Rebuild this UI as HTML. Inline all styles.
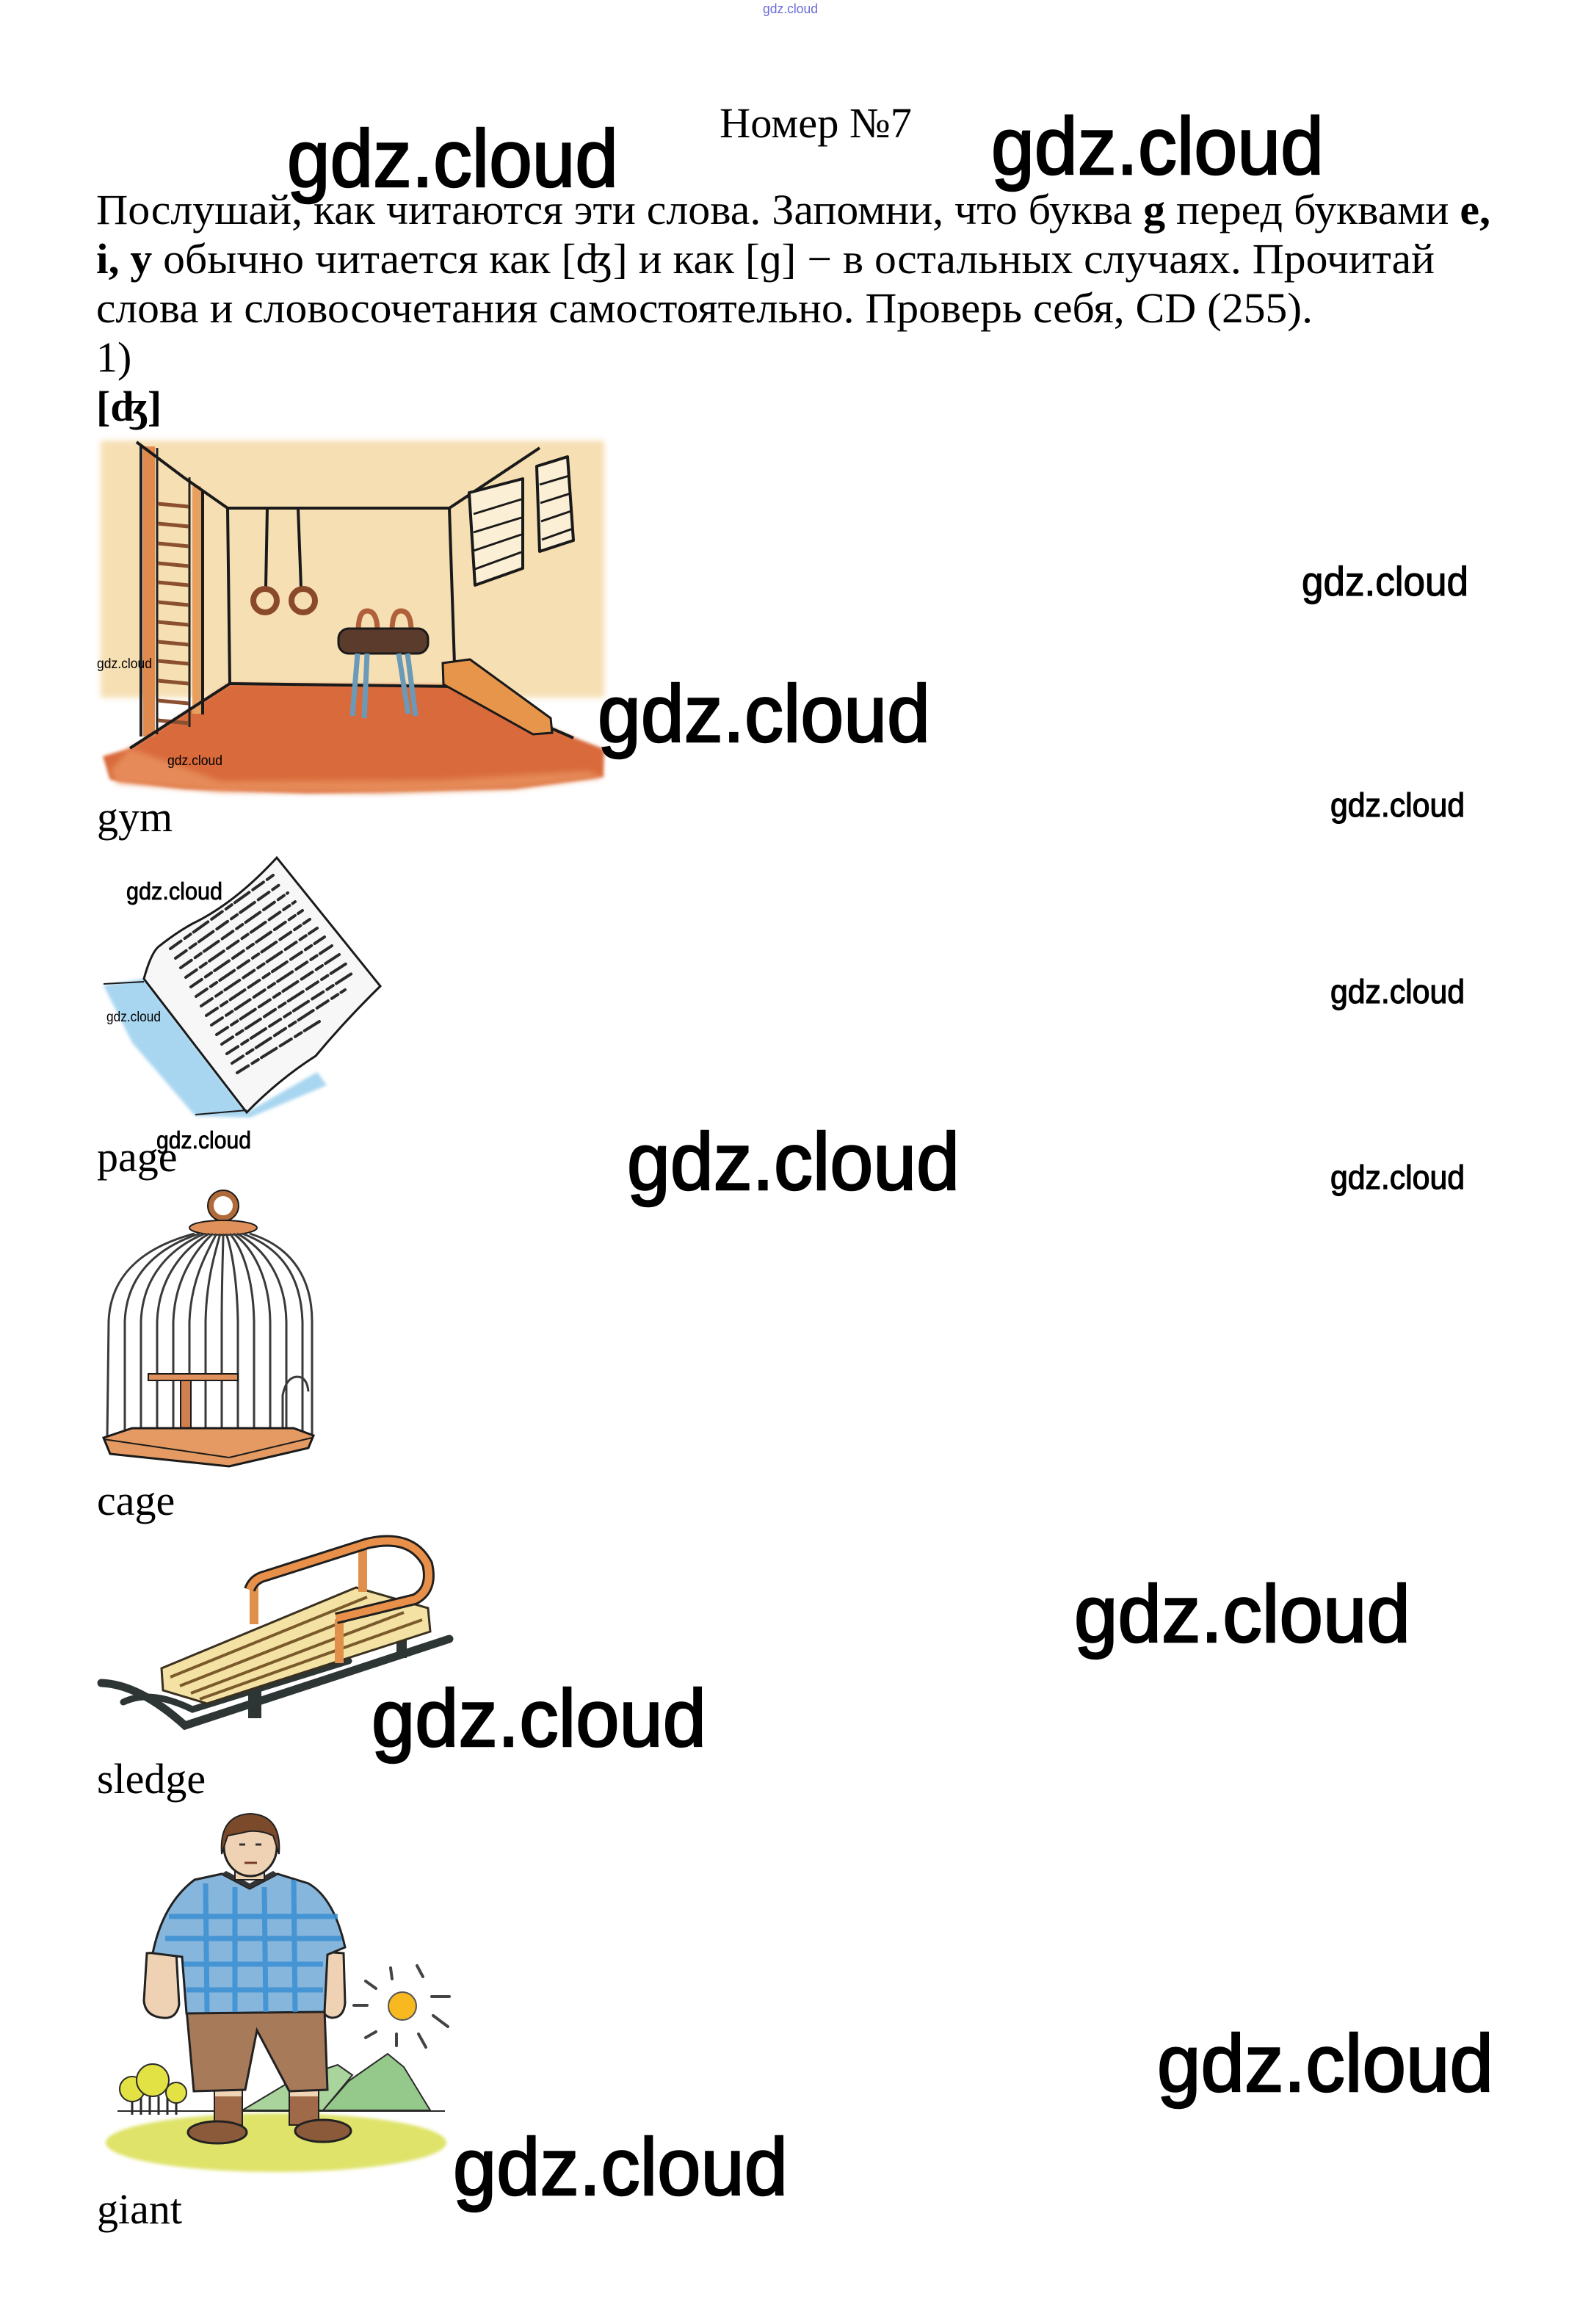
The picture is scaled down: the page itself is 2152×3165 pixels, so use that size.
<!DOCTYPE html>
<html>
<head>
<meta charset="utf-8">
<style>
html,body{margin:0;padding:0;background:#fff;}
svg{display:block;}
.s{font-family:"Liberation Serif","DejaVu Serif",serif;font-size:58px;fill:#000;}
.w{font-family:"Liberation Sans","DejaVu Sans",sans-serif;fill:#000;}
</style>
</head>
<body>
<svg width="2152" height="3165" viewBox="0 0 2152 3165" xmlns="http://www.w3.org/2000/svg">
<defs>
<filter id="bl" x="-10%" y="-10%" width="120%" height="120%"><feGaussianBlur stdDeviation="4"/></filter>
<filter id="bl2" x="-10%" y="-10%" width="120%" height="120%"><feGaussianBlur stdDeviation="2"/></filter>
</defs>
<rect width="2152" height="3165" fill="#fff"/>

<!-- ========== GYM ========== -->
<g>
<rect x="137" y="600" width="686" height="350" fill="#f6dfb3" filter="url(#bl)"/>
<polygon points="313,931 620,933 781,1004 823,1020 822,1058 700,1074 420,1080 250,1074 150,1062 140,1030 177,1019" fill="#d96b3a" filter="url(#bl2)"/>
<polygon points="177,1019 150,1050 160,1066 300,1078 520,1080 700,1074 822,1058 800,1050 600,1062 300,1064" fill="#e58a58" filter="url(#bl)"/>
<!-- ladder -->
<rect x="195" y="608" width="16" height="395" fill="#e08a4e"/>
<line x1="192" y1="606" x2="192" y2="1003" stroke="#222" stroke-width="4"/>
<line x1="214" y1="610" x2="214" y2="1000" stroke="#222" stroke-width="3"/>
<line x1="258" y1="650" x2="258" y2="990" stroke="#222" stroke-width="3"/>
<g stroke="#8a5030" stroke-width="5">
<line x1="215" y1="686" x2="257" y2="690"/><line x1="215" y1="713" x2="257" y2="717"/>
<line x1="215" y1="740" x2="257" y2="744"/><line x1="215" y1="767" x2="257" y2="771"/>
<line x1="215" y1="793" x2="257" y2="797"/><line x1="215" y1="820" x2="257" y2="824"/>
<line x1="215" y1="847" x2="257" y2="851"/><line x1="215" y1="874" x2="257" y2="878"/>
<line x1="215" y1="900" x2="257" y2="904"/><line x1="215" y1="927" x2="257" y2="931"/>
<line x1="215" y1="954" x2="257" y2="958"/><line x1="215" y1="981" x2="257" y2="985"/>
</g>
<rect x="262" y="662" width="12" height="310" fill="#e8a060"/>
<g stroke="#1a1a1a" stroke-width="4" fill="none" stroke-linejoin="round">
<line x1="276" y1="667" x2="276" y2="973"/>
<polyline points="186,602 250,650 310,692 612,692 735,610"/>
<polyline points="310,692 313,931 620,935 612,692"/>
<line x1="313" y1="931" x2="177" y2="1019"/>
<line x1="620" y1="935" x2="781" y2="1005"/>
<polygon points="639,671 712,652 712,774 647,797" fill="#fbf0d6"/>
<polygon points="731,635 773,622 781,736 735,751" fill="#fbf0d6"/>
</g>
<g stroke="#1a1a1a" stroke-width="3">
<line x1="645" y1="700" x2="710" y2="680"/><line x1="645" y1="725" x2="710" y2="705"/>
<line x1="645" y1="750" x2="710" y2="728"/><line x1="647" y1="775" x2="710" y2="752"/>
<line x1="735" y1="660" x2="775" y2="648"/><line x1="736" y1="685" x2="777" y2="672"/>
<line x1="737" y1="710" x2="778" y2="696"/><line x1="738" y1="735" x2="780" y2="720"/>
</g>
<!-- rings -->
<line x1="364" y1="692" x2="362" y2="800" stroke="#1a1a1a" stroke-width="4"/>
<line x1="406" y1="692" x2="410" y2="800" stroke="#1a1a1a" stroke-width="4"/>
<circle cx="361" cy="818" r="16" fill="none" stroke="#8a4a2a" stroke-width="8"/>
<circle cx="413" cy="818" r="16" fill="none" stroke="#8a4a2a" stroke-width="8"/>
<!-- pommel horse -->
<path d="M488 860 Q488 832 500 832 Q514 832 514 860" fill="none" stroke="#b0603a" stroke-width="7"/>
<path d="M534 860 Q534 832 546 832 Q560 832 560 860" fill="none" stroke="#b0603a" stroke-width="7"/>
<rect x="461" y="856" width="122" height="34" rx="14" fill="#5b3b2c" stroke="#1a1a1a" stroke-width="3"/>
<g stroke="#6a9ab8" stroke-width="7">
<line x1="487" y1="890" x2="480" y2="975"/><line x1="500" y1="890" x2="496" y2="978"/>
<line x1="543" y1="890" x2="556" y2="972"/><line x1="555" y1="890" x2="566" y2="975"/>
</g>
<!-- bench -->
<polygon points="603,903 640,898 750,978 752,998 726,1000 604,932" fill="#e8954c" stroke="#1a1a1a" stroke-width="3"/>
</g>

<!-- ========== PAGE ========== -->
<g>
<polygon points="141,1342 196,1333 336,1515 432,1460 445,1478 340,1522 266,1520 180,1420" fill="#a8d6f0" filter="url(#bl2)"/>
<path d="M196 1333 Q205 1300 215 1290 Q240 1270 262 1258 Q320 1230 377 1168 L518 1343 Q470 1390 430 1438 Q380 1470 336 1515 Z" fill="#f7f7f7" stroke="#1a1a1a" stroke-width="3"/>
<line x1="141" y1="1340" x2="196" y2="1337" stroke="#1a1a1a" stroke-width="2"/>
<line x1="266" y1="1518" x2="336" y2="1512" stroke="#1a1a1a" stroke-width="2"/>
<g stroke="#2a2a2a" stroke-width="4" stroke-linecap="round" stroke-dasharray="18 6 10 5 24 6" fill="none">
<line x1="232" y1="1292" x2="372" y2="1192"/>
<line x1="239" y1="1305" x2="382" y2="1204"/>
<line x1="246" y1="1318" x2="392" y2="1216"/>
<line x1="253" y1="1331" x2="402" y2="1228"/>
<line x1="260" y1="1344" x2="412" y2="1240"/>
<line x1="267" y1="1357" x2="422" y2="1252"/>
<line x1="274" y1="1370" x2="432" y2="1264"/>
<line x1="281" y1="1383" x2="442" y2="1276"/>
<line x1="288" y1="1396" x2="452" y2="1288"/>
<line x1="295" y1="1409" x2="462" y2="1300"/>
<line x1="302" y1="1422" x2="472" y2="1312"/>
<line x1="309" y1="1435" x2="482" y2="1324"/>
<line x1="316" y1="1448" x2="470" y2="1348"/>
<line x1="323" y1="1461" x2="440" y2="1388"/>
</g>
</g>

<!-- ========== CAGE ========== -->
<g>
<circle cx="304" cy="1642" r="17" fill="none" stroke="#b06a3a" stroke-width="8"/>
<circle cx="304" cy="1642" r="21" fill="none" stroke="#1a1a1a" stroke-width="2"/>
<ellipse cx="304" cy="1672" rx="46" ry="10" fill="#e0905a" stroke="#1a1a1a" stroke-width="2"/>
<g stroke="#3a3a3a" stroke-width="3" fill="none">
<path d="M265 1680 C190 1700 150 1740 148 1800 L146 1960"/>
<path d="M272 1680 C210 1700 172 1740 170 1800 L170 1962"/>
<path d="M279 1680 C230 1700 194 1740 192 1800 L192 1964"/>
<path d="M285 1680 C250 1700 216 1740 214 1800 L214 1966"/>
<path d="M290 1680 C268 1700 238 1740 236 1800 L236 1968"/>
<path d="M295 1680 C285 1700 260 1740 258 1800 L258 1970"/>
<path d="M300 1680 C295 1700 281 1740 280 1800 L280 1972"/>
<path d="M304 1680 C304 1700 302 1740 302 1800 L302 1972"/>
<path d="M308 1680 C315 1700 323 1740 324 1800 L324 1970"/>
<path d="M313 1680 C330 1700 345 1740 346 1800 L346 1968"/>
<path d="M318 1680 C345 1700 367 1740 368 1800 L368 1966"/>
<path d="M323 1680 C360 1700 389 1740 390 1800 L390 1962"/>
<path d="M330 1680 C385 1700 410 1740 412 1800 L412 1960"/>
<path d="M340 1680 C405 1700 425 1750 425 1800 L425 1956"/>
</g>
<path d="M385 1955 L385 1900 Q390 1875 405 1875 Q418 1875 420 1895" fill="none" stroke="#3a3a3a" stroke-width="3"/>
<rect x="202" y="1871" width="122" height="9" fill="#e0905a" stroke="#1a1a1a" stroke-width="2"/>
<rect x="246" y="1880" width="14" height="70" fill="#d08050" stroke="#1a1a1a" stroke-width="2"/>
<polygon points="141,1958 180,1945 400,1945 427,1955 420,1972 312,1997 150,1980" fill="#e49a62" stroke="#1a1a1a" stroke-width="3"/>
<line x1="141" y1="1960" x2="312" y2="1985" stroke="#1a1a1a" stroke-width="2"/>
<line x1="312" y1="1985" x2="425" y2="1958" stroke="#1a1a1a" stroke-width="2"/>
</g>

<!-- ========== SLEDGE ========== -->
<g>
<path d="M138 2292 Q190 2294 252 2350 L612 2232" fill="none" stroke="#2e3535" stroke-width="11" stroke-linecap="round"/>
<path d="M168 2318 Q205 2300 262 2328 L475 2262" fill="none" stroke="#2e3535" stroke-width="9" stroke-linecap="round"/>
<rect x="338" y="2300" width="18" height="40" fill="#2e3535"/>
<rect x="540" y="2222" width="14" height="36" fill="#2e3535"/>
<polygon points="220,2272 485,2162 583,2190 586,2222 282,2320 222,2302" fill="#f4e2a4" stroke="#3a3020" stroke-width="3"/>
<g stroke="#7a5a2a" stroke-width="4" fill="none">
<line x1="232" y1="2284" x2="500" y2="2175"/>
<line x1="245" y1="2296" x2="525" y2="2186"/>
<line x1="260" y1="2306" x2="550" y2="2196"/>
<line x1="272" y1="2314" x2="575" y2="2206"/>
</g>
<line x1="346" y1="2212" x2="346" y2="2160" stroke="#e0904a" stroke-width="12"/>
<line x1="462" y1="2205" x2="462" y2="2265" stroke="#e0904a" stroke-width="12"/>
<line x1="494" y1="2108" x2="494" y2="2168" stroke="#e0904a" stroke-width="12"/>
<path d="M340 2165 Q345 2150 362 2146 L500 2102 Q560 2088 582 2130 Q590 2165 565 2178 L458 2204" fill="none" stroke="#1f1f1f" stroke-width="16" stroke-linejoin="round"/>
<path d="M340 2165 Q345 2150 362 2146 L500 2102 Q560 2088 582 2130 Q590 2165 565 2178 L458 2204" fill="none" stroke="#e8904a" stroke-width="10" stroke-linejoin="round"/>
</g>

<!-- ========== GIANT ========== -->
<g>
<ellipse cx="376" cy="2918" rx="232" ry="40" fill="#dfe36a" filter="url(#bl2)"/>
<polygon points="330,2874 400,2832 460,2812 480,2826 440,2874" fill="#a9d49c" stroke="#2a2a2a" stroke-width="2"/>
<polygon points="440,2874 475,2834 528,2797 550,2815 586,2874" fill="#95c98c" stroke="#2a2a2a" stroke-width="2"/>
<line x1="160" y1="2875" x2="606" y2="2875" stroke="#2a2a2a" stroke-width="2"/>
<g stroke="#2a2a2a" stroke-width="3">
<line x1="180" y1="2855" x2="180" y2="2880"/><line x1="192" y1="2855" x2="192" y2="2880"/>
<line x1="204" y1="2855" x2="204" y2="2880"/><line x1="216" y1="2855" x2="216" y2="2880"/>
<line x1="228" y1="2855" x2="228" y2="2880"/><line x1="240" y1="2860" x2="240" y2="2880"/>
</g>
<circle cx="180" cy="2845" r="17" fill="#e3e245" stroke="#2a2a2a" stroke-width="2"/>
<circle cx="208" cy="2833" r="22" fill="#e3e245" stroke="#2a2a2a" stroke-width="2"/>
<circle cx="240" cy="2850" r="14" fill="#e3e245" stroke="#2a2a2a" stroke-width="2"/>
<!-- sun -->
<circle cx="548" cy="2732" r="19" fill="#f8b820" stroke="#555" stroke-width="2"/>
<g stroke="#444" stroke-width="4" stroke-linecap="round">
<line x1="482" y1="2731" x2="500" y2="2731"/><line x1="588" y1="2719" x2="612" y2="2719"/>
<line x1="532" y1="2680" x2="534" y2="2695"/><line x1="568" y1="2677" x2="576" y2="2692"/>
<line x1="498" y1="2698" x2="512" y2="2708"/><line x1="590" y1="2745" x2="610" y2="2760"/>
<line x1="498" y1="2775" x2="512" y2="2767"/><line x1="540" y1="2770" x2="540" y2="2786"/>
<line x1="570" y1="2770" x2="580" y2="2788"/>
</g>
<!-- legs -->
<rect x="292" y="2842" width="38" height="52" fill="#a06a48" stroke="#222" stroke-width="2"/>
<rect x="394" y="2842" width="40" height="52" fill="#a06a48" stroke="#222" stroke-width="2"/>
<rect x="293" y="2843" width="36" height="12" fill="#f0d4b6"/>
<rect x="395" y="2843" width="38" height="12" fill="#f0d4b6"/>
<ellipse cx="296" cy="2904" rx="40" ry="15" fill="#8a5a3a" stroke="#222" stroke-width="3"/>
<ellipse cx="440" cy="2902" rx="38" ry="15" fill="#8a5a3a" stroke="#222" stroke-width="3"/>
<!-- arms -->
<path d="M200 2660 L240 2658 L244 2730 Q240 2750 222 2748 Q198 2746 196 2725 Z" fill="#efd2b4" stroke="#222" stroke-width="3"/>
<path d="M440 2658 L468 2660 L470 2728 Q468 2748 452 2748 Q438 2746 438 2728 Z" fill="#efd2b4" stroke="#222" stroke-width="3"/>
<!-- shorts -->
<polygon points="254,2736 442,2736 446,2846 394,2848 350,2765 334,2846 264,2848" fill="#a77a5a" stroke="#222" stroke-width="3"/>
<!-- shirt -->
<path d="M265 2560 L302 2552 L340 2572 L378 2552 L420 2565 Q455 2585 470 2652 L446 2662 L442 2740 L254 2742 L248 2665 L208 2660 Q222 2592 265 2560 Z" fill="#86b6dc" stroke="#222" stroke-width="3"/>
<g stroke="#3a8fd2" stroke-width="7" opacity="0.85">
<line x1="230" y1="2610" x2="460" y2="2610"/><line x1="225" y1="2640" x2="465" y2="2640"/>
<line x1="250" y1="2675" x2="440" y2="2675"/><line x1="254" y1="2710" x2="440" y2="2710"/>
<line x1="280" y1="2565" x2="282" y2="2740"/><line x1="320" y1="2570" x2="320" y2="2740"/>
<line x1="360" y1="2570" x2="362" y2="2740"/><line x1="400" y1="2560" x2="402" y2="2740"/>
</g>
<path d="M302 2552 L340 2572 L378 2552 L372 2548 L340 2565 L308 2548 Z" fill="#333"/>
<!-- head -->
<rect x="320" y="2540" width="40" height="20" fill="#efd2b4" stroke="#222" stroke-width="2"/>
<ellipse cx="341" cy="2515" rx="36" ry="40" fill="#efd2b4" stroke="#222" stroke-width="3"/>
<path d="M302 2525 Q298 2472 341 2470 Q384 2472 380 2525 L372 2500 Q350 2490 330 2496 L310 2500 Z" fill="#7a4a2a" stroke="#222" stroke-width="2"/>
<line x1="326" y1="2512" x2="334" y2="2512" stroke="#333" stroke-width="3"/>
<line x1="348" y1="2512" x2="356" y2="2512" stroke="#333" stroke-width="3"/>
<line x1="333" y1="2537" x2="350" y2="2537" stroke="#7a3a2a" stroke-width="3"/>
</g>

<!-- ========== TEXT ========== -->
<text class="w" x="1039" y="18" font-size="18" style="fill:#6b6bd8" textLength="75" lengthAdjust="spacingAndGlyphs">gdz.cloud</text>

<text class="s" x="980" y="187" textLength="262" lengthAdjust="spacingAndGlyphs">Номер №7</text>

<text class="s" x="131" y="305" textLength="1899" lengthAdjust="spacingAndGlyphs">Послушай, как читаются эти слова. Запомни, что буква <tspan font-weight="bold">g</tspan> перед буквами <tspan font-weight="bold">e,</tspan></text>
<text class="s" x="131" y="372" textLength="1823" lengthAdjust="spacingAndGlyphs"><tspan font-weight="bold">i, y</tspan> обычно читается как [ʤ] и как [ɡ] − в остальных случаях. Прочитай</text>
<text class="s" x="131" y="439" textLength="1657" lengthAdjust="spacingAndGlyphs">слова и словосочетания самостоятельно. Проверь себя, CD (255).</text>
<text class="s" x="131" y="506">1)</text>
<text class="s" x="131" y="573" font-weight="bold">[ʤ]</text>

<text class="s" x="132" y="1132">gym</text>
<text class="s" x="132" y="1595">page</text>
<text class="s" x="132" y="2063">cage</text>
<text class="s" x="132" y="2442">sledge</text>
<text class="s" x="132" y="3028">giant</text>

<!-- big watermarks -->
<g class="w" font-size="110" stroke="#000" stroke-width="2.5">
<text x="391" y="254" textLength="451" lengthAdjust="spacingAndGlyphs">gdz.cloud</text>
<text x="1350" y="237" textLength="453" lengthAdjust="spacingAndGlyphs">gdz.cloud</text>
<text x="814" y="1010" textLength="453" lengthAdjust="spacingAndGlyphs">gdz.cloud</text>
<text x="854" y="1620" textLength="453" lengthAdjust="spacingAndGlyphs">gdz.cloud</text>
<text x="1463" y="2236" textLength="458" lengthAdjust="spacingAndGlyphs">gdz.cloud</text>
<text x="506" y="2378" textLength="456" lengthAdjust="spacingAndGlyphs">gdz.cloud</text>
<text x="1576" y="2848" textLength="458" lengthAdjust="spacingAndGlyphs">gdz.cloud</text>
<text x="617" y="2989" textLength="456" lengthAdjust="spacingAndGlyphs">gdz.cloud</text>
</g>
<!-- medium watermarks -->
<g class="w" stroke="#000" stroke-width="1.2">
<text x="1773" y="811" font-size="56" textLength="227" lengthAdjust="spacingAndGlyphs">gdz.cloud</text>
<text x="1812" y="1112" font-size="45" textLength="183" lengthAdjust="spacingAndGlyphs">gdz.cloud</text>
<text x="1812" y="1366" font-size="45" textLength="183" lengthAdjust="spacingAndGlyphs">gdz.cloud</text>
<text x="1812" y="1619" font-size="45" textLength="183" lengthAdjust="spacingAndGlyphs">gdz.cloud</text>
</g>
<!-- small watermarks -->
<text class="w" x="132" y="910" font-size="19" textLength="75" lengthAdjust="spacingAndGlyphs">gdz.cloud</text>
<text class="w" x="228" y="1042" font-size="19" textLength="75" lengthAdjust="spacingAndGlyphs">gdz.cloud</text>
<text class="w" x="172" y="1225" font-size="33" stroke="#000" stroke-width="0.8" textLength="131" lengthAdjust="spacingAndGlyphs">gdz.cloud</text>
<text class="w" x="145" y="1391" font-size="19" textLength="74" lengthAdjust="spacingAndGlyphs">gdz.cloud</text>
<text class="w" x="213" y="1564" font-size="33" stroke="#000" stroke-width="0.8" textLength="129" lengthAdjust="spacingAndGlyphs">gdz.cloud</text>
</svg>
</body>
</html>
